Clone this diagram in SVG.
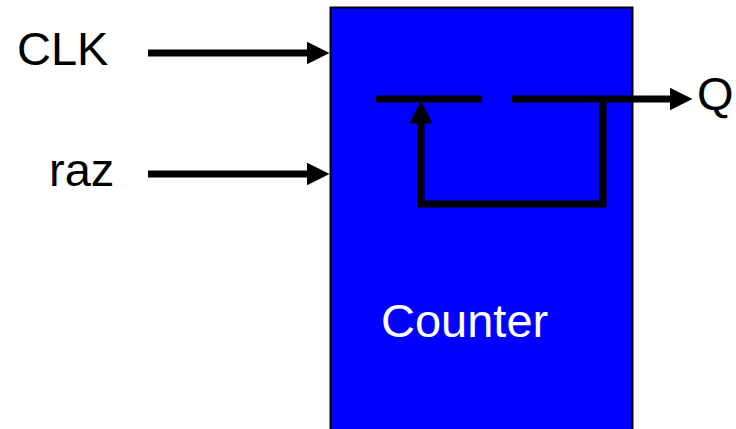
<svg xmlns="http://www.w3.org/2000/svg" width="736" height="429" viewBox="0 0 736 429">
<style>
.lbl{font-family:"Liberation Sans",Arial,sans-serif;font-size:47px;fill:#000}
.wlbl{font-family:"Liberation Sans",Arial,sans-serif;font-size:47px;fill:#fff}
.wire{stroke:#000;stroke-width:7;fill:none}
</style>
<defs>
<marker id="ah" markerUnits="userSpaceOnUse" markerWidth="24" markerHeight="24" refX="0.5" refY="11.5" orient="auto">
<path d="M0,0 L23,11.5 L0,23 z" fill="#000"/>
</marker>
</defs>
<rect width="736" height="429" fill="#fff"/>
<g id="counter">
<rect x="330.5" y="7.5" width="302" height="430" fill="#0000ff" stroke="#000" stroke-width="2"/>
<text class="wlbl" x="381" y="337">Counter</text>
</g>
<g id="clk-label"><text class="lbl" x="17" y="65">CLK</text></g>
<g id="raz-label"><text class="lbl" x="49" y="186">raz</text></g>
<g id="q-label"><text class="lbl" x="697" y="110">Q</text></g>
<g id="connectors">
<line class="wire" x1="148" y1="53" x2="307" y2="53" marker-end="url(#ah)"/>
<line class="wire" x1="148" y1="174" x2="307" y2="174" marker-end="url(#ah)"/>
<line class="wire" x1="376" y1="99" x2="482" y2="99"/>
<line class="wire" x1="512" y1="99" x2="670" y2="99" marker-end="url(#ah)"/>
<path class="wire" d="M603,96 V204 H421 V123" stroke-linejoin="miter" marker-end="url(#ah)"/>
</g>
</svg>
